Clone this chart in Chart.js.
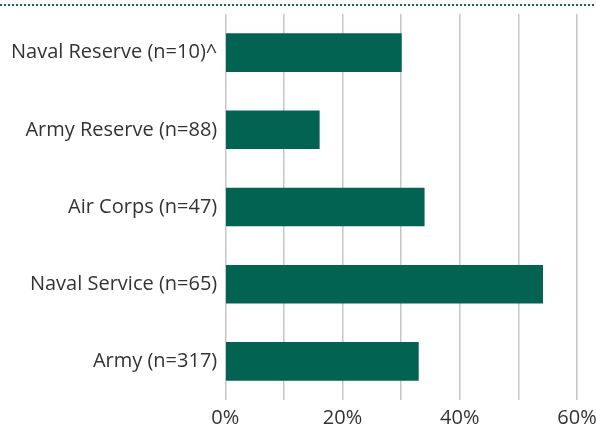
<!DOCTYPE html>
<html>
<head>
<meta charset="utf-8">
<script src="https://cdn.jsdelivr.net/npm/chart.js@4"></script>
<style>
  html, body { margin: 0; padding: 0; background: #fff; }
  #wrap { width: 596px; height: 432px; position: relative; }
</style>
</head>
<body>
<div id="wrap"><canvas id="chartBar"></canvas></div>
<script>
const categories = [
  "Naval Reserve (n=10)^",
  "Army Reserve (n=88)",
  "Air Corps (n=47)",
  "Naval Service (n=65)",
  "Army (n=317)"
];
const values = [30.1, 16.1, 34.0, 54.2, 33.0];
const tickLabels = [0, 20, 40, 60];

// dotted rule across the top
const topRule = {
  id: 'topRule',
  beforeDraw(chart) {
    const ctx = chart.ctx;
    ctx.save();
    ctx.strokeStyle = '#0b6b58';
    ctx.lineWidth = 2;
    ctx.setLineDash([2, 2]);
    ctx.beginPath();
    ctx.moveTo(0, 5);
    ctx.lineTo(chart.width, 5);
    ctx.stroke();
    ctx.restore();
  }
};

Chart.defaults.font.family = "'Open Sans', 'Noto Sans', sans-serif";
Chart.defaults.font.size = 20;
Chart.defaults.color = '#333';

new Chart(document.getElementById('chartBar'), {
  type: 'bar',
  data: {
    labels: categories,
    datasets: [{
      data: values,
      backgroundColor: '#026352',
      categoryPercentage: 1,
      barPercentage: 0.5
    }]
  },
  options: {
    indexAxis: 'y',
    responsive: true,
    maintainAspectRatio: false,
    animation: false,
    layout: { padding: { top: 14, right: 19, left: 3, bottom: 0 } },
    plugins: { legend: { display: false }, tooltip: { enabled: false } },
    scales: {
      x: {
        min: 0,
        max: 60,
        afterFit: s => { s.paddingLeft = 0; s.paddingRight = 0; s.height -= 4; },
        ticks: {
          stepSize: 10,
          padding: 6,
          callback: v => tickLabels.includes(v) ? v + '%' : ''
        },
        grid: { color: '#c6c6c6', lineWidth: 1.5, drawTicks: false },
        border: { display: false }
      },
      y: {
        afterFit: s => { s.paddingTop = 0; s.paddingBottom = 0; },
        ticks: { padding: 8 },
        grid: { display: false, drawTicks: false },
        border: { display: false }
      }
    }
  },
  plugins: [topRule]
});
</script>
</body>
</html>
